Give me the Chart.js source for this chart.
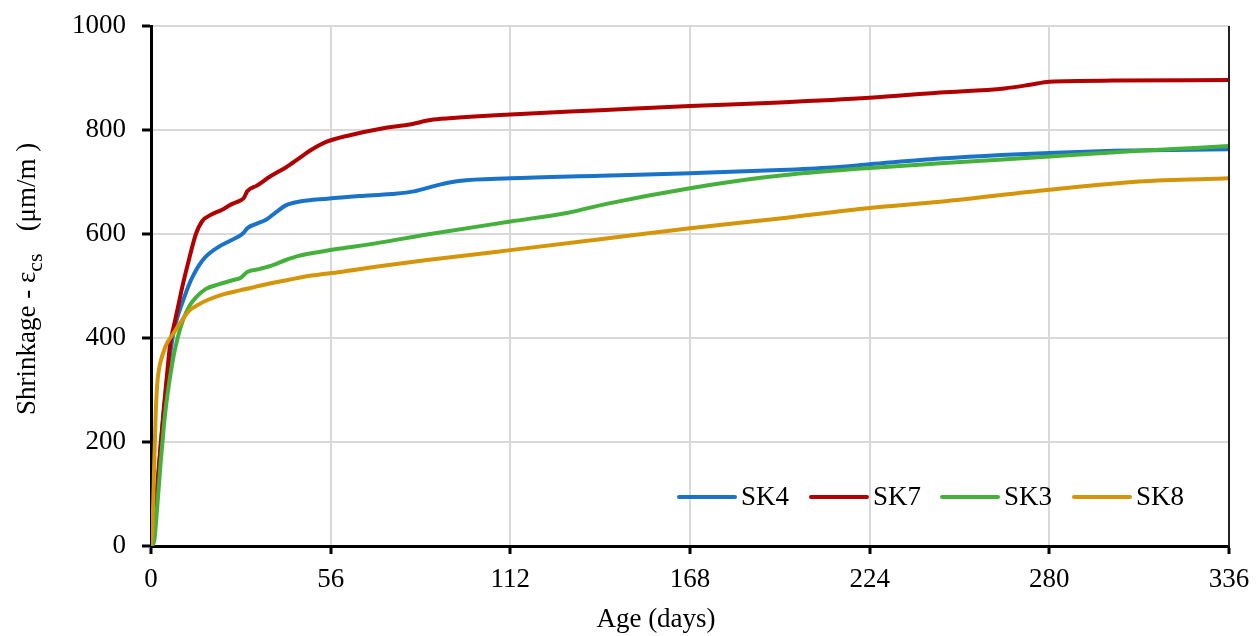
<!DOCTYPE html>
<html>
<head>
<meta charset="utf-8">
<script src="https://cdn.jsdelivr.net/npm/chart.js@4.4.1/dist/chart.umd.min.js"></script>
<style>
  html, body { margin: 0; padding: 0; background: #fff; }
  #wrap { width: 1260px; height: 636px; }
</style>
</head>
<body>
<div id="wrap"><canvas id="chart" width="1260" height="636"></canvas></div>
<script>
const seriesNames = ["SK4", "SK7", "SK3", "SK8"];
const seriesColors = ["#1a73c8", "#b00000", "#45b03b", "#d4950a"];

const xTicks = [0, 56, 112, 168, 224, 280, 336];
const yTicks = [0, 200, 400, 600, 800, 1000];

const sk4Days = [0, 1, 2, 3, 4, 5, 6, 7, 8, 10, 12, 13, 15, 17, 21, 25, 28, 29, 30, 33, 36, 39, 42, 46, 55, 65, 75, 82, 90, 96, 112, 140, 168, 196, 212, 224, 246, 265, 280, 300, 336];
const sk4Vals = [0, 40, 110, 190, 260, 320, 370, 410, 435, 472, 505, 518, 540, 556, 575, 588, 598, 603, 611, 620, 628, 642, 655, 662, 668, 673, 677, 682, 695, 702, 707, 712, 717, 723, 728, 734, 745, 752, 756, 760, 763];

const sk7Days = [0, 1, 2, 3, 4, 5, 6, 7, 8, 10, 12, 14, 16, 19, 22, 25, 28, 29, 30, 33, 37, 42, 46, 50, 55, 62, 72, 80, 88, 96, 112, 140, 168, 196, 224, 246, 266, 274, 280, 300, 336];
const sk7Vals = [0, 50, 120, 195, 265, 330, 390, 420, 448, 505, 555, 600, 625, 638, 646, 657, 665, 670, 682, 693, 710, 728, 745, 762, 778, 790, 803, 810, 820, 824, 830, 838, 846, 853, 862, 872, 880, 887, 893, 895, 896];

const sk3Days = [0, 1, 2, 3, 4, 5, 7, 8.5, 10, 12, 14, 17, 21, 26, 28, 30, 34, 38, 42, 46, 52, 59, 70, 87, 112, 130, 142, 168, 190, 200, 224, 246, 280, 308, 336];
const sk3Vals = [0, 10, 80, 160, 230, 285, 364, 405, 435, 462, 478, 494, 503, 512, 516, 527, 533, 540, 550, 558, 565, 572, 582, 600, 624, 641, 658, 688, 708, 715, 727, 736, 749, 760, 769];

const sk8Days = [0, 0.5, 1, 1.5, 2, 2.5, 3, 4, 5, 7, 9, 12, 15, 18, 22, 28, 35, 43, 50, 59, 70, 86, 100, 112, 140, 168, 196, 224, 246, 280, 308, 336];
const sk8Vals = [0, 40, 160, 260, 315, 340, 355, 375, 390, 409, 428, 453, 465, 474, 483, 492, 502, 512, 520, 527, 537, 550, 560, 569, 590, 611, 630, 650, 662, 685, 701, 707];

const allDays = [sk4Days, sk7Days, sk3Days, sk8Days];
const allVals = [sk4Vals, sk7Vals, sk3Vals, sk8Vals];
const drawOrder = [3, 2, 1, 0]; // lower = on top

const FONT = "'Liberation Serif', 'Times New Roman', serif";
Chart.defaults.font.family = FONT;
Chart.defaults.font.size = 27;
Chart.defaults.color = "#000";

const datasets = seriesNames.map((name, i) => ({
  label: name,
  data: allDays[i].map((d, j) => ({ x: d, y: allVals[i][j] })),
  borderColor: seriesColors[i],
  backgroundColor: seriesColors[i],
  borderWidth: 4,
  pointRadius: 0,
  fill: false,
  cubicInterpolationMode: "monotone",
  order: drawOrder[i],
}));

// extra drawing: right frame line, axis titles, legend
const decorations = {
  id: "decorations",
  afterDraw(chart) {
    const ctx = chart.ctx;
    const area = chart.chartArea;
    ctx.save();

    // right border
    ctx.strokeStyle = "#222";
    ctx.lineWidth = 2;
    ctx.beginPath();
    ctx.moveTo(area.right, area.top);
    ctx.lineTo(area.right, area.bottom);
    ctx.stroke();

    // x title
    ctx.fillStyle = "#000";
    ctx.font = "27px " + FONT;
    ctx.textAlign = "center";
    ctx.textBaseline = "alphabetic";
    ctx.fillText("Age (days)", 656, 627);

    // y title with subscript
    ctx.save();
    ctx.translate(35, 415);
    ctx.rotate(-Math.PI / 2);
    ctx.textAlign = "left";
    const main = "Shrinkage - \u03b5";
    ctx.font = "27px " + FONT;
    ctx.fillText(main, 0, 0);
    let w = ctx.measureText(main).width;
    ctx.font = "22px " + FONT;
    ctx.fillText("cs", w, 7);
    w += ctx.measureText("cs").width + 22;
    ctx.font = "27px " + FONT;
    ctx.fillText("(\u03bcm/m )", w, 0);
    ctx.restore();

    // legend
    const legendY = 497;
    const legendX = [679, 811, 942, 1074];
    ctx.lineCap = "round";
    ctx.font = "27px " + FONT;
    ctx.textAlign = "left";
    ctx.textBaseline = "middle";
    chart.data.datasets.forEach((ds, i) => {
      const x0 = legendX[i];
      ctx.strokeStyle = ds.borderColor;
      ctx.lineWidth = 4;
      ctx.beginPath();
      ctx.moveTo(x0, legendY);
      ctx.lineTo(x0 + 56, legendY);
      ctx.stroke();
      ctx.fillStyle = "#000";
      ctx.fillText(ds.label, x0 + 62, legendY + 1);
    });

    ctx.restore();
  },
};

new Chart(document.getElementById("chart"), {
  type: "line",
  data: { datasets },
  options: {
    responsive: false,
    animation: false,
    layout: { padding: { top: 26, right: 31, left: 0, bottom: 0 } },
    plugins: {
      legend: { display: false },
      tooltip: { enabled: false },
    },
    scales: {
      x: {
        type: "linear",
        min: 0,
        max: 336,
        afterBuildTicks: (scale) => {
          scale.ticks = xTicks.map((v) => ({ value: v }));
        },
        afterFit: (scale) => {
          scale.height = 90;
          scale.paddingLeft = 0;
          scale.paddingRight = 0;
        },
        ticks: { padding: 10, maxRotation: 0, autoSkip: false, font: { size: 27 }, callback: (v) => String(v) },
        grid: { color: "#d9d9d9", lineWidth: 2, tickColor: "#000", tickWidth: 3, tickLength: 8 },
        border: { color: "#000", width: 3 },
      },
      y: {
        min: 0,
        max: 1000,
        afterBuildTicks: (scale) => {
          scale.ticks = yTicks.map((v) => ({ value: v }));
        },
        afterFit: (scale) => {
          scale.width = 151;
          scale.paddingTop = 0;
          scale.paddingBottom = 0;
        },
        ticks: { padding: 16, font: { size: 27 }, callback: (v) => String(v) },
        grid: { color: "#d9d9d9", lineWidth: 2, tickColor: "#000", tickWidth: 3, tickLength: 9 },
        border: { color: "#000", width: 3 },
      },
    },
  },
  plugins: [decorations],
});
</script>
</body>
</html>
